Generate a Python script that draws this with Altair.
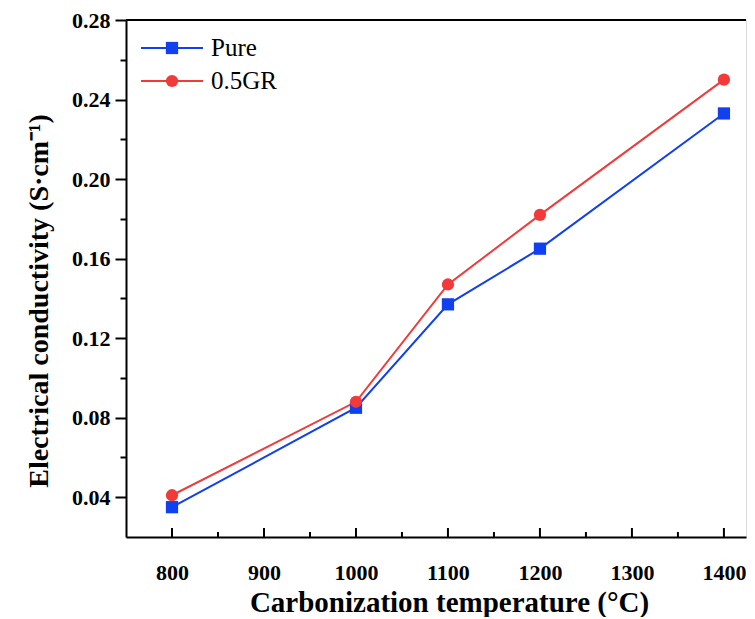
import altair as alt
import pandas as pd

temps = [800, 1000, 1100, 1200, 1400]
pure = [0.035, 0.085, 0.137, 0.165, 0.233]
gr05 = [0.041, 0.088, 0.147, 0.182, 0.250]
series = ["Pure", "0.5GR"]
colors = ["#1040F0", "#F23A3A"]
shapes = ["square", "circle"]
x_major = [800, 900, 1000, 1100, 1200, 1300, 1400]
x_minor = [850, 950, 1050, 1150, 1250, 1350]
y_ticks = [0.04, 0.06, 0.08, 0.10, 0.12, 0.14, 0.16, 0.18, 0.20, 0.22, 0.24, 0.26, 0.28]

W, H = 620, 517
FONT = "Liberation Serif"

df = pd.DataFrame({
    "temp": temps * 2,
    "value": pure + gr05,
    "series": ["Pure"] * len(temps) + ["0.5GR"] * len(temps),
})
maj_df = pd.DataFrame({"t": x_major})
min_df = pd.DataFrame({"t": x_minor})
leg_df = pd.DataFrame({"series": series})

xscale = alt.Scale(domain=[750, 1424], nice=False, zero=False)
yscale = alt.Scale(domain=[0.02, 0.28], nice=False, zero=False)
cscale = alt.Scale(domain=series, range=colors)
sscale = alt.Scale(domain=series, range=shapes)

major_test = "round(datum.value*100) % 4 == 0"

xaxis = alt.Axis(values=x_major, format="d", ticks=False, tickSize=0, grid=False,
                 labelFont=FONT, labelFontSize=22, labelFontWeight="bold", labelColor="black",
                 labelPadding=25, domainWidth=2, domainColor="black",
                 title="Carbonization temperature (°C)", titleFont=FONT, titleFontSize=29,
                 titleFontWeight="bold", titleColor="black", titlePadding=5,
                 titleX=W / 2 + 13)
yaxis = alt.Axis(values=y_ticks, format=".2f", grid=False,
                 labelExpr=f"{major_test} ? datum.label : ''",
                 tickSize={"condition": {"test": major_test, "value": 11}, "value": 6},
                 tickWidth=2, tickColor="black",
                 labelFont=FONT, labelFontSize=22, labelFontWeight="bold", labelColor="black",
                 labelPadding=5, domainWidth=2, domainColor="black",
                 title="Electrical conductivity (S·cm⁻¹)", titleFont=FONT, titleFontSize=28,
                 titleFontWeight="bold", titleColor="black", titlePadding=18,
                 titleY=H / 2 + 22)

base = alt.Chart(df)
lines = base.mark_line(strokeWidth=2).encode(
    x=alt.X("temp:Q", scale=xscale, axis=xaxis),
    y=alt.Y("value:Q", scale=yscale, axis=yaxis),
    color=alt.Color("series:N", scale=cscale, legend=None),
    detail="series:N",
)
points = base.mark_point(filled=True, opacity=1, size=150).encode(
    x=alt.X("temp:Q", scale=xscale),
    y=alt.Y("value:Q", scale=yscale),
    color=alt.Color("series:N", scale=cscale, legend=None),
    shape=alt.Shape("series:N", scale=sscale, legend=None),
)
top_line = alt.Chart(maj_df).mark_rule(color="black", strokeWidth=2).encode(
    x=alt.value(0), x2=alt.value(W), y=alt.value(0)
)
maj_ticks = alt.Chart(maj_df).mark_rule(color="black", strokeWidth=2).encode(
    x=alt.X("t:Q", scale=xscale), y=alt.value(H), y2=alt.value(H - 9)
)
min_ticks = alt.Chart(min_df).mark_rule(color="black", strokeWidth=2).encode(
    x=alt.X("t:Q", scale=xscale), y=alt.value(H), y2=alt.value(H - 5)
)
main = alt.layer(top_line, maj_ticks, min_ticks, lines, points)

lscale = alt.Scale(type="point", domain=series, range=[11.5, 77.5])
leg_rule = alt.Chart(leg_df).mark_rule(strokeWidth=2).encode(
    x=alt.value(15), x2=alt.value(77),
    y=alt.Y("series:N", scale=lscale, axis=None),
    color=alt.Color("series:N", scale=cscale, legend=None),
)
leg_pt = alt.Chart(leg_df).mark_point(filled=True, opacity=1, size=150).encode(
    x=alt.value(46),
    y=alt.Y("series:N", scale=lscale, axis=None),
    color=alt.Color("series:N", scale=cscale, legend=None),
    shape=alt.Shape("series:N", scale=sscale, legend=None),
)
leg_txt = alt.Chart(leg_df).mark_text(align="left", baseline="middle", font=FONT,
                                      fontSize=25, color="black").encode(
    x=alt.value(85),
    y=alt.Y("series:N", scale=lscale, axis=None),
    text="series:N",
)
legend = alt.layer(leg_rule, leg_pt, leg_txt)

chart = alt.layer(main, legend).resolve_scale(y="independent").properties(
    width=W, height=H,
    padding={"left": 17, "top": 1, "right": 0, "bottom": 0},
).configure_view(stroke=None).configure(background="white")

chart.save("out.html", embed_options={"renderer": "svg", "actions": False})
